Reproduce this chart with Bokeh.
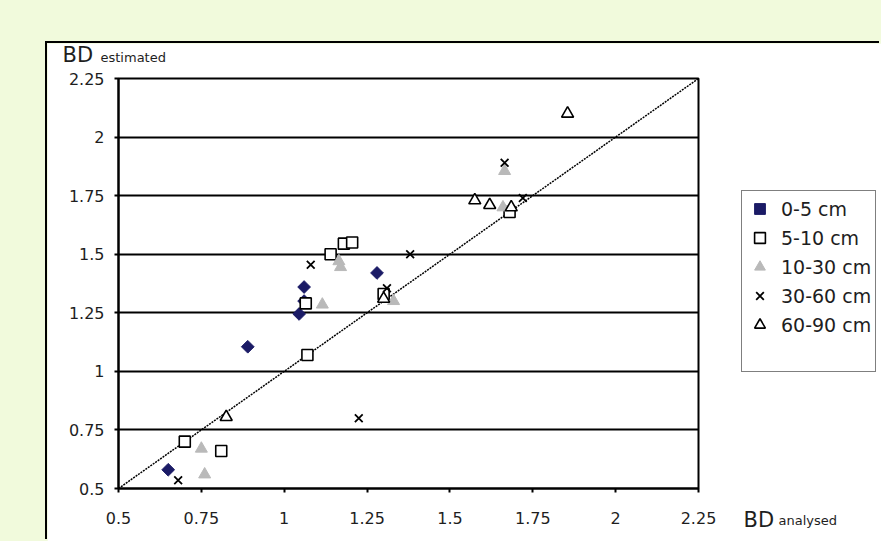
import numpy as np
from bokeh.plotting import figure
from bokeh.layouts import column
from bokeh.models import Range1d, FixedTicker, Legend, LegendItem, Label
from bokeh.embed import file_html
from bokeh.resources import INLINE

# ---------------- data ----------------
tick_values = [0.5, 0.75, 1.0, 1.25, 1.5, 1.75, 2.0, 2.25]
tick_labels = ["0.5", "0.75", "1", "1.25", "1.5", "1.75", "2", "2.25"]

series_names = ["0-5 cm", "5-10 cm", "10-30 cm", "30-60 cm", "60-90 cm"]

x_0_5 = [0.65, 0.89, 1.045, 1.06, 1.06, 1.28]
y_0_5 = [0.58, 1.105, 1.245, 1.30, 1.36, 1.42]

x_5_10 = [0.70, 0.81, 1.07, 1.065, 1.14, 1.18, 1.205, 1.30, 1.68]
y_5_10 = [0.70, 0.66, 1.07, 1.29, 1.50, 1.545, 1.55, 1.33, 1.68]

x_10_30 = [0.75, 0.76, 1.115, 1.165, 1.17, 1.33, 1.66, 1.665]
y_10_30 = [0.67, 0.56, 1.285, 1.47, 1.445, 1.30, 1.70, 1.855]

x_30_60 = [0.68, 1.08, 1.225, 1.31, 1.38, 1.665, 1.72]
y_30_60 = [0.535, 1.455, 0.80, 1.355, 1.50, 1.89, 1.74]

x_60_90 = [0.825, 1.30, 1.575, 1.62, 1.685, 1.855]
y_60_90 = [0.805, 1.31, 1.73, 1.71, 1.70, 2.10]

one_to_one = [0.5, 2.25]

# ---------------- styling ----------------
BG = "#f1fadc"
FONT = "DejaVu Sans"
TXT = "#1e1e1e"
W, H = 834, 498
B_LEFT, B_TOP, B_RIGHT, B_BOTTOM = 71, 35, 183, 53
LO, HI = 0.5, 2.25

styles = [
    dict(marker="square", angle=np.pi / 4, size=9, fill_color="#1b1b66", line_color="#1b1b66"),
    dict(marker="square", size=11, fill_color="white", line_color="black", line_width=1.6),
    dict(marker="triangle", size=12, fill_color="#b9b9b9", line_color="#b9b9b9"),
    dict(marker="x", size=11, line_color="black", line_width=1.8),
    dict(marker="triangle", size=12, fill_color="white", line_color="black", line_width=1.6),
]

# ---------------- main chart (axes, grid, 1:1 line) ----------------
p = figure(width=W, height=H, output_backend="svg", toolbar_location=None,
           x_range=Range1d(LO, HI), y_range=Range1d(LO, HI),
           min_border_left=B_LEFT, min_border_top=B_TOP,
           min_border_right=B_RIGHT, min_border_bottom=B_BOTTOM)
p.margin = (43, 0, 0, 47)
p.styles = {"box-shadow": "-2px -2px 0px 0px #000000"}
p.background_fill_color = "white"
p.border_fill_color = "white"
p.outline_line_color = "black"
p.outline_line_width = 2

ticker = FixedTicker(ticks=tick_values)
overrides = {v: s for v, s in zip(tick_values, tick_labels)}
for ax in (p.xaxis[0], p.yaxis[0]):
    ax.ticker = ticker
    ax.major_label_overrides = overrides
    ax.axis_line_color = "black"
    ax.axis_line_width = 2
    ax.major_tick_line_color = "black"
    ax.major_tick_line_width = 2
    ax.major_tick_in = 0
    ax.major_tick_out = 4
    ax.minor_tick_line_color = None
    ax.major_label_text_font = FONT
    ax.major_label_text_font_size = "16px"
    ax.major_label_text_color = TXT
p.xaxis.major_label_standoff = 19
p.yaxis.major_label_standoff = 10

p.xgrid.visible = False
p.ygrid.ticker = ticker
p.ygrid.grid_line_color = "black"
p.ygrid.grid_line_width = 2

p.line(one_to_one, one_to_one, line_color="black", line_width=1.5, line_dash="2 1")

main = column(p, styles={"background-color": BG})

# ---------------- transparent overlay (separate root): points, legend, axis titles ----------------
frame_w = W - B_LEFT - B_RIGHT
frame_h = H - B_TOP - B_BOTTOM
ux = (HI - LO) / frame_w
uy = (HI - LO) / frame_h
data_x = Range1d(LO - B_LEFT * ux, HI + B_RIGHT * ux)
data_y = Range1d(LO - B_BOTTOM * uy, HI + B_TOP * uy)

q = figure(width=W, height=H, output_backend="svg", toolbar_location=None,
           x_range=Range1d(0, W), y_range=Range1d(H, 0), min_border=0)
q.extra_x_ranges = {"data": data_x}
q.extra_y_ranges = {"data": data_y}
q.margin = (-H, 0, 0, 47)
q.axis.visible = False
q.grid.visible = False
q.outline_line_color = None
q.background_fill_alpha = 0
q.border_fill_alpha = 0

series = [(x_0_5, y_0_5), (x_5_10, y_5_10), (x_10_30, y_10_30),
          (x_30_60, y_30_60), (x_60_90, y_60_90)]
renderers = [q.scatter(xs, ys, x_range_name="data", y_range_name="data", **st)
             for (xs, ys), st in zip(series, styles)]
spacer = q.scatter([], [], marker="circle", size=1, fill_color=None, line_color=None)

items = [LegendItem(label=n, renderers=[r]) for n, r in zip(series_names, renderers)]
items.append(LegendItem(label=" ", renderers=[spacer]))
legend = Legend(items=items, location=(694, 169))
legend.label_text_font = FONT
legend.label_text_font_size = "19px"
legend.label_text_color = TXT
legend.glyph_width = 27
legend.glyph_height = 27
legend.label_height = 22
legend.spacing = 2
legend.padding = 4
legend.margin = 0
legend.label_standoff = 8
legend.border_line_color = "black"
legend.border_line_width = 1.5
legend.background_fill_color = "white"
legend.background_fill_alpha = 1
q.add_layout(legend, "center")

for txt, x, y, size in [("BD", 15, 11, "21px"),
                        ("estimated", 53, 14, "13px"),
                        ("BD", 696, 476, "21px"),
                        ("analysed", 731, 477, "13px")]:
    q.add_layout(Label(x=x, y=y, text=txt, text_font=FONT,
                       text_font_size=size, text_color=TXT,
                       text_baseline="alphabetic", text_align="left"))

open("out.html", "w").write(file_html([main, q], INLINE))
